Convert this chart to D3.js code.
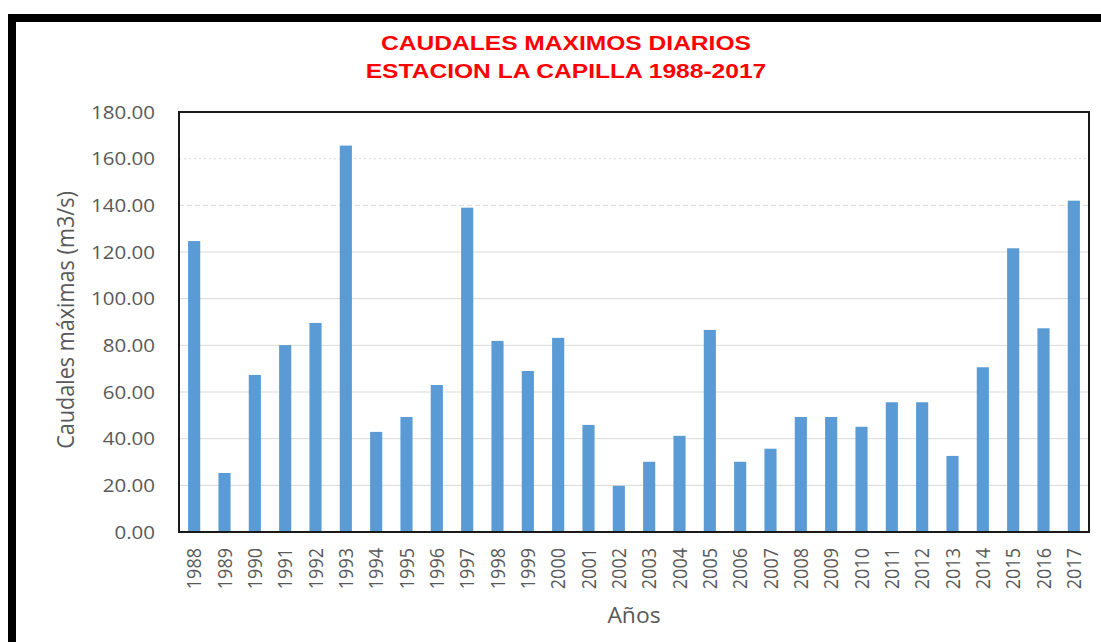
<!DOCTYPE html>
<html>
<head>
<meta charset="utf-8">
<script src="https://cdn.jsdelivr.net/npm/d3@7"></script>
<style>
  body { margin: 0; background: #fff; }
  svg { display: block; }
</style>
</head>
<body>
<svg id="chart"></svg>
<script>
// data
var years = ['1988','1989','1990','1991','1992','1993','1994','1995','1996','1997',
             '1998','1999','2000','2001','2002','2003','2004','2005','2006','2007',
             '2008','2009','2010','2011','2012','2013','2014','2015','2016','2017'];
var caudales = [124.7, 25.3, 67.3, 80.1, 89.6, 165.6, 42.9, 49.3, 63.0, 139.0,
                81.9, 69.0, 83.2, 45.9, 19.8, 30.1, 41.2, 86.6, 30.1, 35.7,
                49.3, 49.3, 45.1, 55.6, 55.6, 32.6, 70.6, 121.6, 87.3, 142.0];
var yTicks = [0, 20, 40, 60, 80, 100, 120, 140, 160, 180];

var W = 1101, H = 642;
var svg = d3.select('#chart').attr('width', W).attr('height', H);

// the source picture is a bit wider than tall, so widen text horizontally
function widen(sel, k) {
  sel.each(function() {
    var len = this.getComputedTextLength();
    d3.select(this).attr('textLength', len * k).attr('lengthAdjust', 'spacingAndGlyphs');
  });
}

// outer black frame (only top + left visible in the photo)
svg.append('rect')
  .attr('x', 12).attr('y', 18)
  .attr('width', W + 20).attr('height', H + 20)
  .attr('fill', '#fff')
  .attr('stroke', '#000')
  .attr('stroke-width', 8);

var plot = { left: 179, top: 112, right: 1089, bottom: 532 };

var x = d3.scaleBand()
  .domain(years)
  .range([plot.left, plot.right])
  .paddingInner(0.6)
  .paddingOuter(0.3);

var y = d3.scaleLinear()
  .domain([0, 180])
  .range([plot.bottom, plot.top]);

// gridlines
var gridStyle = function(v) {
  if (v === 160) return '2,3';
  if (v === 140) return '5,3';
  return null;
};
svg.append('g').selectAll('line')
  .data(yTicks.filter(function(v){ return v > 0 && v < 180; }))
  .enter().append('line')
    .attr('x1', plot.left).attr('x2', plot.right)
    .attr('y1', function(d){ return y(d); })
    .attr('y2', function(d){ return y(d); })
    .attr('stroke', '#d9d9d9')
    .attr('stroke-width', 1)
    .attr('stroke-dasharray', gridStyle);

// bars
svg.append('g').selectAll('rect')
  .data(caudales)
  .enter().append('rect')
    .attr('x', function(d, i){ return x(years[i]); })
    .attr('y', function(d){ return y(d); })
    .attr('width', x.bandwidth())
    .attr('height', function(d){ return y(0) - y(d); })
    .attr('fill', '#5b9bd5');

// plot border
svg.append('rect')
  .attr('x', plot.left).attr('y', plot.top)
  .attr('width', plot.right - plot.left)
  .attr('height', plot.bottom - plot.top)
  .attr('fill', 'none')
  .attr('stroke', '#1a1a1a')
  .attr('stroke-width', 2);

// y axis
var yAxis = svg.append('g')
  .attr('transform', 'translate(' + plot.left + ',0)')
  .call(d3.axisLeft(y).tickValues(yTicks).tickSize(0).tickPadding(24)
        .tickFormat(d3.format('.2f')));
yAxis.select('.domain').remove();
yAxis.selectAll('text')
  .attr('fill', '#595959')
  .style('font-family', '"Open Sans", sans-serif')
  .style('font-size', '19px')
  .call(widen, 1.08);

// x axis (rotated labels, glyphs widened on screen)
var xAxis = svg.append('g')
  .attr('transform', 'translate(0,' + plot.bottom + ')')
  .call(d3.axisBottom(x).tickSize(0));
xAxis.select('.domain').remove();
xAxis.selectAll('.tick text')
  .attr('fill', '#595959')
  .style('font-family', '"Open Sans", sans-serif')
  .style('font-size', '18px')
  .attr('transform', 'translate(0,16) scale(1.12,1) rotate(-90)')
  .attr('x', 0).attr('y', 0).attr('dy', '0.35em')
  .style('text-anchor', 'end');

// titles
var title = svg.append('text')
  .attr('text-anchor', 'middle')
  .attr('fill', '#ff0000')
  .style('font-family', '"Liberation Sans", Arial, sans-serif')
  .style('font-weight', 'bold')
  .style('font-size', '21px');
title.append('tspan').attr('x', 566).attr('y', 50).text('CAUDALES MAXIMOS DIARIOS');
title.append('tspan').attr('x', 566).attr('y', 78).text('ESTACION LA CAPILLA 1988-2017');
title.selectAll('tspan').call(widen, 1.17);

svg.append('text')
  .attr('transform', 'translate(74,' + 320 + ') scale(1.1,1) rotate(-90)')
  .attr('text-anchor', 'middle')
  .attr('fill', '#595959')
  .style('font-family', '"Open Sans", sans-serif')
  .style('font-size', '21px')
  .text('Caudales máximas (m3/s)')
  .call(widen, 1.03);

svg.append('text')
  .attr('x', 634).attr('y', 623)
  .attr('text-anchor', 'middle')
  .attr('fill', '#595959')
  .style('font-family', '"Open Sans", sans-serif')
  .style('font-size', '21px')
  .text('Años')
  .call(widen, 1.09);
</script>
</body>
</html>
